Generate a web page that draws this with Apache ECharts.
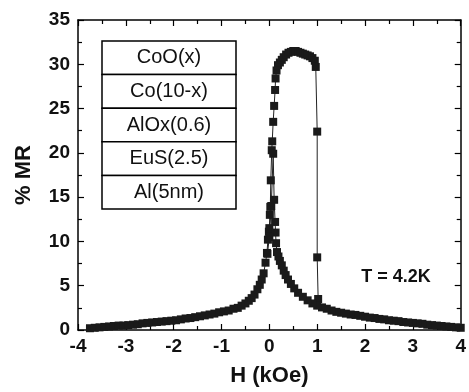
<!DOCTYPE html>
<html><head><meta charset="utf-8">
<script src="https://cdn.jsdelivr.net/npm/echarts@6/dist/echarts.min.js"></script>
<style>html,body{margin:0;padding:0;background:#fff}#c{width:469px;height:392px}</style>
</head><body><div id="c"></div>
<script>
// Sweep from negative to positive field
var hUp = [-3.75,-3.65,-3.55,-3.45,-3.35,-3.25,-3.15,-3.05,-2.95,-2.85,-2.75,-2.65,-2.55,-2.45,-2.35,-2.25,-2.15,-2.05,-1.95,-1.85,-1.75,-1.65,-1.55,-1.45,-1.35,-1.25,-1.15,-1.05,-0.95,-0.85,-0.75,-0.66,-0.58,-0.5,-0.43,-0.37,-0.31,-0.25,-0.2,-0.16,-0.12,-0.08,-0.05,-0.03,-0.01,0.0,0.01,0.02,0.03,0.05,0.06,0.08,0.1,0.12,0.13,0.15,0.18,0.22,0.26,0.3,0.35,0.4,0.45,0.5,0.55,0.6,0.65,0.7,0.75,0.8,0.85,0.9,0.95,0.97,1.0,1.0,1.02];
var mrUp = [0.2,0.25,0.3,0.35,0.4,0.45,0.5,0.5,0.55,0.6,0.65,0.75,0.8,0.85,0.9,0.95,1.0,1.05,1.1,1.2,1.3,1.35,1.45,1.55,1.65,1.75,1.85,2.0,2.1,2.2,2.4,2.5,2.75,3.0,3.3,3.6,4.0,4.6,5.1,5.7,6.4,7.6,8.7,10.2,11.1,11.5,13.0,13.9,16.9,20.3,21.3,23.5,25.3,27.1,28.4,29.3,29.9,30.2,30.5,30.8,31.1,31.3,31.4,31.5,31.5,31.4,31.3,31.2,31.1,31.0,30.9,30.7,30.4,29.7,22.4,8.2,3.5];
// Sweep from positive to negative field
var hDown = [4.0,3.9,3.8,3.7,3.6,3.5,3.4,3.3,3.2,3.1,3.0,2.9,2.8,2.7,2.6,2.5,2.4,2.3,2.2,2.1,2.0,1.9,1.8,1.7,1.6,1.5,1.4,1.3,1.2,1.1,1.0,0.9,0.8,0.7,0.6,0.52,0.45,0.39,0.34,0.3,0.26,0.22,0.19,0.16,0.14,0.13,0.12,0.1,0.08,0.04,0.0,-0.04];
var mrDown = [0.25,0.3,0.35,0.4,0.45,0.5,0.55,0.6,0.7,0.75,0.8,0.85,0.9,1.0,1.05,1.1,1.2,1.25,1.35,1.4,1.5,1.6,1.7,1.75,1.85,1.95,2.05,2.2,2.4,2.55,2.75,3.0,3.35,3.75,4.2,4.7,5.2,5.7,6.2,6.7,7.3,7.8,8.3,8.8,9.8,11.0,12.2,14.7,19.9,14.0,10.5,8.6];
var layers = ["CoO(x)","Co(10-x)","AlOx(0.6)","EuS(2.5)","Al(5nm)"];
var tempLabel = "T = 4.2K";

function pairs(xs, ys){ return xs.map(function(x,i){return [x, ys[i]];}); }

var chart = echarts.init(document.getElementById('c'), null, {renderer:'canvas'});
var F = 'Liberation Sans, Arial, Helvetica, sans-serif';
var axisLine = {show:true, onZero:false, lineStyle:{color:'#000', width:1.5}};
var tick = {show:true, inside:true, length:6, lineStyle:{color:'#000', width:1.2}};
var minor = {show:true, splitNumber:2, length:4, lineStyle:{color:'#000', width:1.2}};
var lbl = {color:'#111', fontFamily:F, fontWeight:'bold', fontSize:19};

var graphics = [];
var bx = 102, by = 41, bw = 134, rh = 33.6;
layers.forEach(function(t, i){
  graphics.push({type:'rect', shape:{x:bx, y:by + i*rh, width:bw, height:rh}, style:{fill:'#fff', stroke:'#000', lineWidth:1.5}, z:10});
  graphics.push({type:'text', x:bx + bw/2, y:by + i*rh + rh/2, style:{text:t, fill:'#111', font:'20px ' + F, textAlign:'center', textVerticalAlign:'middle'}, z:11});
});
graphics.push({type:'text', x:396, y:277, style:{text:tempLabel, fill:'#111', font:'bold 18px ' + F, textAlign:'center', textVerticalAlign:'middle'}, z:11});

chart.setOption({
  animation:false,
  grid:{left:78, right:3, top:20, bottom:62},
  xAxis:[{
    type:'value', min:-4, max:4, interval:1, position:'bottom',
    name:'H (kOe)', nameLocation:'middle', nameGap:35,
    nameTextStyle:{color:'#111', fontFamily:F, fontWeight:'bold', fontSize:22},
    axisLine:axisLine, axisTick:tick, minorTick:minor, splitLine:{show:false},
    axisLabel:Object.assign({margin:7}, lbl)
  },{
    type:'value', min:-4, max:4, interval:1, position:'top',
    axisLine:axisLine, axisTick:tick, minorTick:minor, splitLine:{show:false}, axisLabel:{show:false}
  }],
  yAxis:[{
    type:'value', min:0, max:35, interval:5, position:'left',
    name:'% MR', nameLocation:'middle', nameGap:43,
    nameTextStyle:{color:'#111', fontFamily:F, fontWeight:'bold', fontSize:22},
    axisLine:axisLine, axisTick:tick, minorTick:minor, splitLine:{show:false},
    axisLabel:Object.assign({margin:8}, lbl)
  },{
    type:'value', min:0, max:35, interval:5, position:'right',
    axisLine:axisLine, axisTick:tick, minorTick:minor, splitLine:{show:false}, axisLabel:{show:false}
  }],
  graphic:graphics,
  series:[{
    type:'line', data:pairs(hUp, mrUp), symbol:'rect', symbolSize:8,
    itemStyle:{color:'#1a1a1a', borderWidth:0}, lineStyle:{color:'#222', width:1}
  },{
    type:'line', data:pairs(hDown, mrDown), symbol:'rect', symbolSize:8,
    itemStyle:{color:'#1a1a1a', borderWidth:0}, lineStyle:{color:'#222', width:1}
  }]
});
</script></body></html>
